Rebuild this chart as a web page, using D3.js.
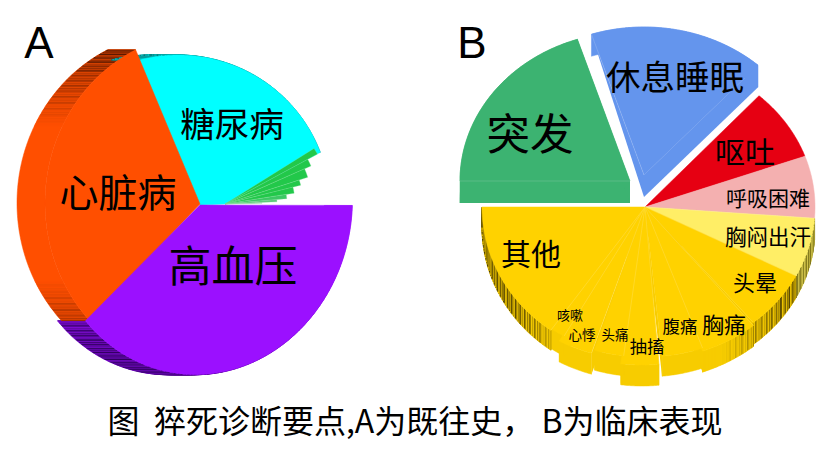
<!DOCTYPE html>
<html>
<head>
<meta charset="utf-8">
<script src="https://cdn.jsdelivr.net/npm/d3@7"></script>
<style>
  html, body { margin: 0; padding: 0; background: #fff; }
  svg { display: block; }
  text { font-family: "Noto Sans CJK SC", "Noto Sans", sans-serif; fill: #000; text-anchor: middle; dominant-baseline: central; white-space: pre; }
  .panel { font-family: "Liberation Sans", sans-serif; }
</style>
</head>
<body>
<div id="chart"></div>
<script>
// panel A: past history
var historyNames = ['高血压', '心脏病', '糖尿病', '', '', '', '', '', '', '', ''];
var historyValues = [38, 30, 23.4, 1.0, 1.25, 1.65, 1.1, 1.4, 1.1, 0.7, 0.4];

// panel B: clinical signs
var signNames = ['突发', '休息睡眠', '呕吐', '呼吸困难', '胸闷出汗', '头晕', '胸痛', '腹痛', '抽搐', '头痛', '心悸', '咳嗽', '其他'];
var signValues = [20, 16.7, 7.8, 6.7, 6.4, 6.4, 5.5, 3.9, 3.6, 2.8, 3.3, 1.7, 15.2];

var caption = '图  猝死诊断要点,A为既往史， B为临床表现';

var deg = Math.PI / 180;

// drawing setup, kept apart from the values
var historyShape = [
  {color: '#9B10FF', dark: '#2c0058', cx: 200, cy: 205, rx: 152, ry: 170, rot: 8, phase: 0, shadeFrom: 0.3, label: [233, 263], size: 43},
  {color: '#FF4F00', dark: '#4e1500', cx: 205, cy: 203, rx: 160, ry: 170, rot: 0, phase: 6.5, shadeFrom: 0.45, label: [118, 190], size: 39, apex: [[200, 204]]},
  {color: '#00FFFF', dark: '#0a6b6b', cx: 178, cy: 205, rx: 152, ry: 150, rot: 0, phase: 17.4, shadeFrom: 0.45, label: [232, 122], size: 34.6, apex: [[200, 205], [225, 204]]}
];
var greenRadii = [105, 94, 87, 78, 70, 62, 52, 37];
var greenColors = ['#22C84A', '#22C84A', '#22C84A', '#22C84A', '#22C84A', '#3CC864', '#5CC878', '#A0C8A8'];
var greenCenter = [225, 204];
var greenPhase = 6;
var wallDx = -28;

var gold = '#FFD200';
var hub = [[645, 207]];
var signShape = [
  {color: '#3CB371', cx: 630, cy: 181, rx: 170, ry: 149, depth: 22, label: [530, 131], size: 43.5},
  {color: '#6495ED', cx: 644, cy: 175, rx: 170, ry: 148, depth: 22, taper: true, label: [675, 75], size: 34.5},
  {color: '#E60012', cx: 645, cy: 207, rx: 170, ry: 150, depth: 0, label: [745, 150], size: 30},
  {color: '#F4B0B0', cx: 645, cy: 207, rx: 170, ry: 150, depth: 0, label: [768, 197], size: 21},
  {color: '#FFEE66', dark: '#5f5808', cx: 645, cy: 207, rx: 170, ry: 150, depth: 22, stripes: true, label: [768, 235], size: 21.5},
  {color: gold, dark: '#4f4000', cx: 645, cy: 207, rx: 170, ry: 150, depth: 22, stripes: true, label: [755, 281], size: 22, apex: hub},
  {color: gold, dark: '#4f4000', cx: 645, cy: 210, rx: 170, ry: 150, depth: 21, stripes: true, label: [724, 323], size: 22, apex: hub},
  {color: gold, cx: 645, cy: 207, rx: 170, ry: 150, depth: 20, label: [680, 325], size: 17.5, apex: hub},
  {color: gold, cx: 642, cy: 215, rx: 170, ry: 150, depth: 21, label: [647, 345], size: 17.3, apex: hub},
  {color: gold, cx: 645, cy: 207, rx: 170, ry: 150, depth: 20, label: [615, 334], size: 13.5, apex: hub},
  {color: gold, cx: 642, cy: 210, rx: 170, ry: 150, depth: 21, label: [582, 334], size: 13.5, apex: hub},
  {color: gold, cx: 645, cy: 205, rx: 166, ry: 150, depth: 20, label: [570, 314], size: 13, apex: hub},
  {color: gold, dark: '#4f4000', cx: 645, cy: 207, rx: 163, ry: 151, depth: 20, stripes: true, label: [531, 252], size: 30}
];
var bandPattern = [1, 0.2, 0.8, 0.05, 0.65, 1, 0.1, 0.5, 0, 0.9];

var svg = d3.select('#chart').append('svg')
  .attr('width', 830)
  .attr('height', 456);

var pie = d3.pie().sort(null);

var historyPie = pie.startAngle(83 * deg).endAngle(443 * deg)(historyValues);
var signPie = pie.startAngle(270 * deg).endAngle(630 * deg)(signValues);

// point on a slice's outer edge
function rim(s, a) {
  var t = a + (s.phase || 0) * deg;
  var r = (s.rot || 0) * deg;
  var x = s.rx * Math.sin(t);
  var y = -s.ry * Math.cos(t);
  return [s.cx + x * Math.cos(r) - y * Math.sin(r), s.cy + x * Math.sin(r) + y * Math.cos(r)];
}

function rimPoints(s, d) {
  var n = Math.ceil((d.endAngle - d.startAngle) / (0.5 * deg));
  return d3.range(n + 1).map(function(i) {
    return rim(s, d.startAngle + (d.endAngle - d.startAngle) * i / n);
  });
}

var line = d3.line();

function shift(p, dx, dy) {
  return [p[0] + dx, p[1] + dy];
}

function drawWall(g, s, d, dx, dy, base) {
  var pts = rimPoints(s, d);
  var back = pts.map(function(p) { return shift(p, dx, dy); }).reverse();
  g.append('path')
    .attr('d', line(pts.concat(back)) + 'Z')
    .attr('fill', base)
    .attr('stroke', base)
    .attr('stroke-width', 0.5);
}

function drawFace(g, s, d) {
  var apex = s.apex || [[s.cx, s.cy]];
  g.append('path')
    .attr('d', line(apex.slice(0, 1).concat(rimPoints(s, d)).concat(apex.slice(1))) + 'Z')
    .attr('fill', s.color)
    .attr('stroke', s.color)
    .attr('stroke-width', 0.5);
}

// panel A, the wall runs sideways
var gA = svg.append('g');

var slicesA = historyPie.slice(0, 3).map(function(d, i) { return {d: d, s: historyShape[i]}; });

slicesA.forEach(function(o) {
  drawWall(gA, o.s, o.d, wallDx, 0, o.s.color === '#00FFFF' ? o.s.dark : o.s.color);
  var pts = rimPoints(o.s, o.d);
  gA.selectAll(null)
    .data(pts)
    .enter()
    .append('line')
    .attr('x1', function(p) { return p[0]; })
    .attr('y1', function(p) { return p[1]; })
    .attr('x2', function(p) { return p[0] + wallDx; })
    .attr('y2', function(p) { return p[1]; })
    .attr('stroke-width', 1.2)
    .attr('stroke', function(p, i) {
      var t = Math.abs(p[1] - o.s.cy) / o.s.ry;
      var k = Math.min(1, Math.max(0, (t - o.s.shadeFrom) / 0.45)) * (0.3 + 0.7 * bandPattern[i % bandPattern.length]);
      return d3.interpolateRgb(o.s.color, o.s.dark)(k);
    })
    .attr('stroke-opacity', function(p) {
      return Math.abs(p[1] - o.s.cy) / o.s.ry > o.s.shadeFrom ? 1 : 0;
    });
});

drawFace(gA, slicesA[2].s, slicesA[2].d);

var greenArc = d3.arc().innerRadius(0);
gA.append('g')
  .attr('transform', 'translate(' + greenCenter + ')')
  .selectAll('path')
  .data(historyPie.slice(3))
  .enter()
  .append('path')
  .attr('d', function(d, i) {
    return greenArc({
      outerRadius: greenRadii[i],
      startAngle: d.startAngle + greenPhase * deg,
      endAngle: d.endAngle + greenPhase * deg
    });
  })
  .attr('fill', function(d, i) { return greenColors[i]; })
  .attr('stroke', '#7fe09a')
  .attr('stroke-width', 0.3);

drawFace(gA, slicesA[1].s, slicesA[1].d);
drawFace(gA, slicesA[0].s, slicesA[0].d);

// panel B, the wall runs down
var gB = svg.append('g');

signPie.forEach(function(d, i) {
  var s = signShape[i];
  if (!s.depth) return;
  var base = s.color === gold ? '#F7CC00' : s.color;
  var start = rim(s, d.startAngle);
  var apex = (s.apex || [[s.cx, s.cy]])[0];
  drawWall(gB, s, d, 0, s.depth, base);
  var side = s.taper
    ? [start, apex, shift(apex, 0, s.depth)]
    : [start, apex, shift(apex, 0, s.depth), shift(start, 0, s.depth)];
  gB.append('path').attr('d', line(side) + 'Z').attr('fill', base);
  var end = rim(s, d.endAngle);
  gB.append('path')
    .attr('d', line([end, apex, shift(apex, 0, s.depth), shift(end, 0, s.depth)]) + 'Z')
    .attr('fill', base);
  if (s.stripes) {
    gB.selectAll(null)
      .data(rimPoints(s, d))
      .enter()
      .append('line')
      .attr('x1', function(p) { return p[0]; })
      .attr('y1', function(p) { return p[1]; })
      .attr('x2', function(p) { return p[0]; })
      .attr('y2', function(p) { return p[1] + s.depth; })
      .attr('stroke-width', 1.1)
      .attr('stroke', function(p, j) {
        var t = Math.abs(p[0] - s.cx) / s.rx;
        var k = Math.min(1, Math.max(0, (t - 0.45) / 0.35)) * bandPattern[j % bandPattern.length];
        return d3.interpolateRgb(base, s.dark)(k);
      });
  }
});

signPie.forEach(function(d, i) {
  var s = signShape[i];
  var apex = (s.apex || [[s.cx, s.cy]])[0];
  drawFace(gB, s, d);
  if (s.depth) {
    gB.append('path')
      .attr('d', line([rim(s, d.startAngle), apex]))
      .attr('fill', 'none')
      .attr('stroke', 'rgba(255,255,255,0.22)')
      .attr('stroke-width', 0.7);
  }
});

// labels
svg.selectAll('text.a')
  .data(historyShape)
  .enter()
  .append('text')
  .attr('class', 'a')
  .attr('x', function(s) { return s.label[0]; })
  .attr('y', function(s) { return s.label[1]; })
  .attr('font-size', function(s) { return s.size; })
  .text(function(s, i) { return historyNames[i]; });

svg.selectAll('text.b')
  .data(signShape)
  .enter()
  .append('text')
  .attr('class', 'b')
  .attr('x', function(s) { return s.label[0]; })
  .attr('y', function(s) { return s.label[1]; })
  .attr('font-size', function(s) { return s.size; })
  .text(function(s, i) { return signNames[i]; });

svg.append('text').attr('class', 'panel').attr('x', 39).attr('y', 42).attr('font-size', 44).text('A');
svg.append('text').attr('class', 'panel').attr('x', 472).attr('y', 42).attr('font-size', 44).text('B');

svg.append('text')
  .attr('x', 415)
  .attr('y', 419)
  .attr('font-size', 32)
  .text(caption);
</script>
</body>
</html>
